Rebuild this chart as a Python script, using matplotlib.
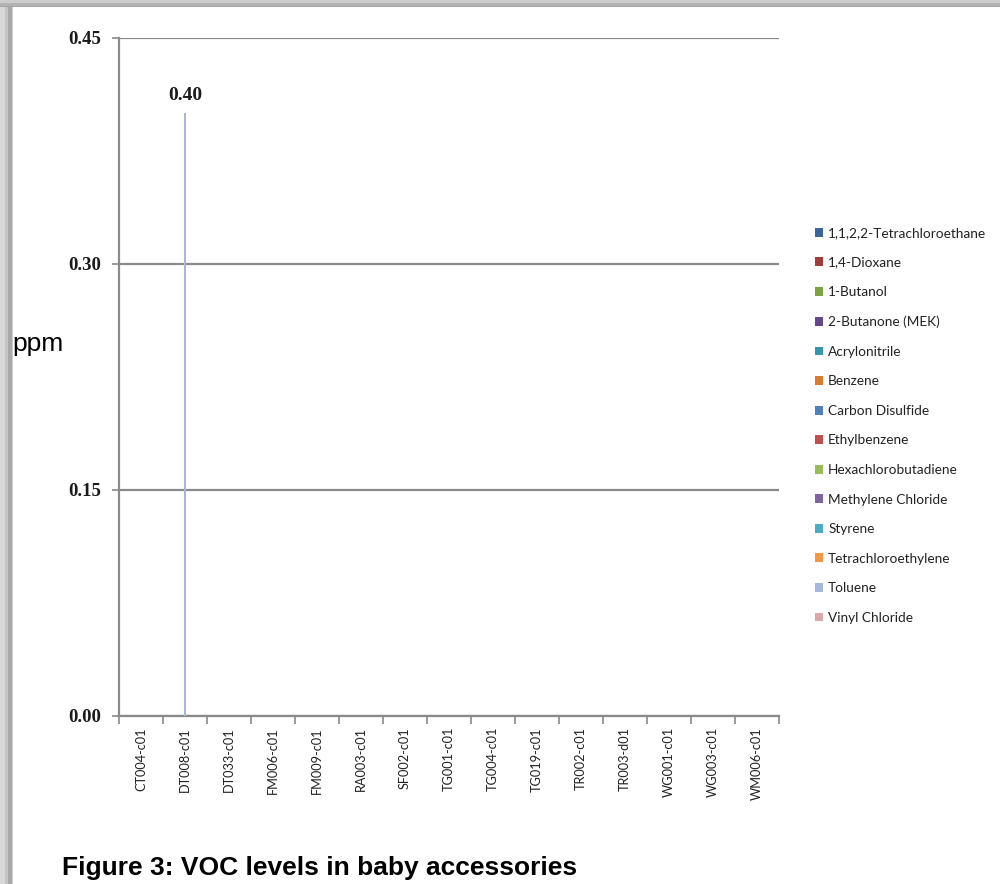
import matplotlib
matplotlib.use("Agg")
import matplotlib.pyplot as plt
from matplotlib.patches import Rectangle, Patch
import numpy as np

# Sample IDs on the category axis
samples = ["CT004-c01", "DT008-c01", "DT033-c01", "FM006-c01", "FM009-c01",
           "RA003-c01", "SF002-c01", "TG001-c01", "TG004-c01", "TG019-c01",
           "TR002-c01", "TR003-d01", "WG001-c01", "WG003-c01", "WM006-c01"]

# VOC compounds (series)
compounds = ["1,1,2,2-Tetrachloroethane", "1,4-Dioxane", "1-Butanol",
             "2-Butanone (MEK)", "Acrylonitrile", "Benzene", "Carbon Disulfide",
             "Ethylbenzene", "Hexachlorobutadiene", "Methylene Chloride",
             "Styrene", "Tetrachloroethylene", "Toluene", "Vinyl Chloride"]

colors = ["#3a66a0", "#a33b38", "#7fa340", "#65478c", "#3696ae", "#d97a30",
          "#4f81bd", "#c0504d", "#9bbb59", "#8064a2", "#4bacc6", "#f79646",
          "#a3b8dc", "#dca9a8"]

# Only toluene was detected (DT008-c01); all other readings are zero
toluene = [0.00, 0.40, 0.00, 0.00, 0.00, 0.00, 0.00, 0.00, 0.00, 0.00,
           0.00, 0.00, 0.00, 0.00, 0.00]
levels = {c: [0.0] * len(samples) for c in compounds}
levels["Toluene"] = toluene

y_ticks = [0.00, 0.15, 0.30, 0.45]

W, H = 1000, 884
fig = plt.figure(figsize=(W / 100, H / 100), dpi=100)
fig.patch.set_facecolor("white")

# Shadowed page frame on the top and left edges
def px_rect(x0, y0, x1, y1, color):
    fig.patches.append(Rectangle((x0 / W, 1 - y1 / H), (x1 - x0) / W, (y1 - y0) / H,
                                 transform=fig.transFigure, facecolor=color,
                                 edgecolor="none", zorder=0))

px_rect(0, 0, 5, H, "#d8d8d8")
px_rect(5, 0, 8, H, "#c4c4c4")
px_rect(8, 0, 12, H, "#a9a9a9")
px_rect(12, 0, 13, H, "#cfcfcf")
px_rect(0, 0, W, 3, "#cdcdcd")
px_rect(0, 3, W, 6, "#b3b3b3")
px_rect(0, 6, W, 7, "#a4a4a4")

ax = fig.add_axes([119 / W, 1 - 716 / H, 660 / W, 678 / H])
ax.set_facecolor("white")

x = np.arange(len(samples))
for comp, col in zip(compounds, colors):
    ax.bar(x, levels[comp], width=0.05, color=col, zorder=3)

# Data label on the detected value
for xi, v in zip(x, toluene):
    if v > 0:
        ax.annotate(f"{v:.2f}", (xi, v), xytext=(0, 7), textcoords="offset points",
                    ha="center", va="bottom", fontsize=14, fontweight="bold",
                    family="Liberation Serif", color="#1a1a1a")

gray = "#8a8a8a"
ax.set_xlim(-0.5, len(samples) - 0.5)
ax.set_ylim(0, 0.45)
ax.set_yticks(y_ticks)
ax.set_yticklabels([f"{t:.2f}" for t in y_ticks], fontsize=13.5, fontweight="bold",
                   family="Liberation Serif", color="#1a1a1a")
ax.yaxis.grid(True, color=gray, linewidth=1.6, zorder=1)
ax.set_axisbelow(True)

# Category boundaries carry the tick marks, labels sit at centres
ax.set_xticks(np.arange(-0.5, len(samples), 1.0))
ax.set_xticklabels([])
ax.set_xticks(x, minor=True)
ax.set_xticklabels(samples, minor=True, rotation=90, fontsize=9.2,
                   family="Lato", color="#222222")
ax.tick_params(axis="x", which="major", length=6, width=1.2, color=gray)
ax.tick_params(axis="x", which="minor", length=0, pad=8)
ax.tick_params(axis="y", length=5, width=1.2, color=gray, pad=8)

for s in ["top", "right"]:
    ax.spines[s].set_visible(False)
for s in ["left", "bottom"]:
    ax.spines[s].set_color(gray)
    ax.spines[s].set_linewidth(1.6)

fig.text(12 / W, 1 - 344 / H, "ppm", fontsize=19, family="Liberation Sans",
         ha="left", va="center", color="black")

handles = [Patch(facecolor=c, edgecolor="none") for c in colors]
fig.legend(handles, compounds, loc="upper left",
           bbox_to_anchor=(815 / W, 1 - 227 / H), frameon=False,
           prop={"family": "Lato", "size": 9.8}, handlelength=0.62,
           handleheight=0.62, handletextpad=0.35, labelspacing=1.29,
           borderpad=0, borderaxespad=0, labelcolor="#222222")

fig.text(62 / W, 1 - 868 / H, "Figure 3: VOC levels in baby accessories",
         fontsize=19, fontweight="bold", family="Liberation Sans",
         ha="left", va="center", color="black")

fig.savefig("out.png", dpi=100, facecolor="white")
